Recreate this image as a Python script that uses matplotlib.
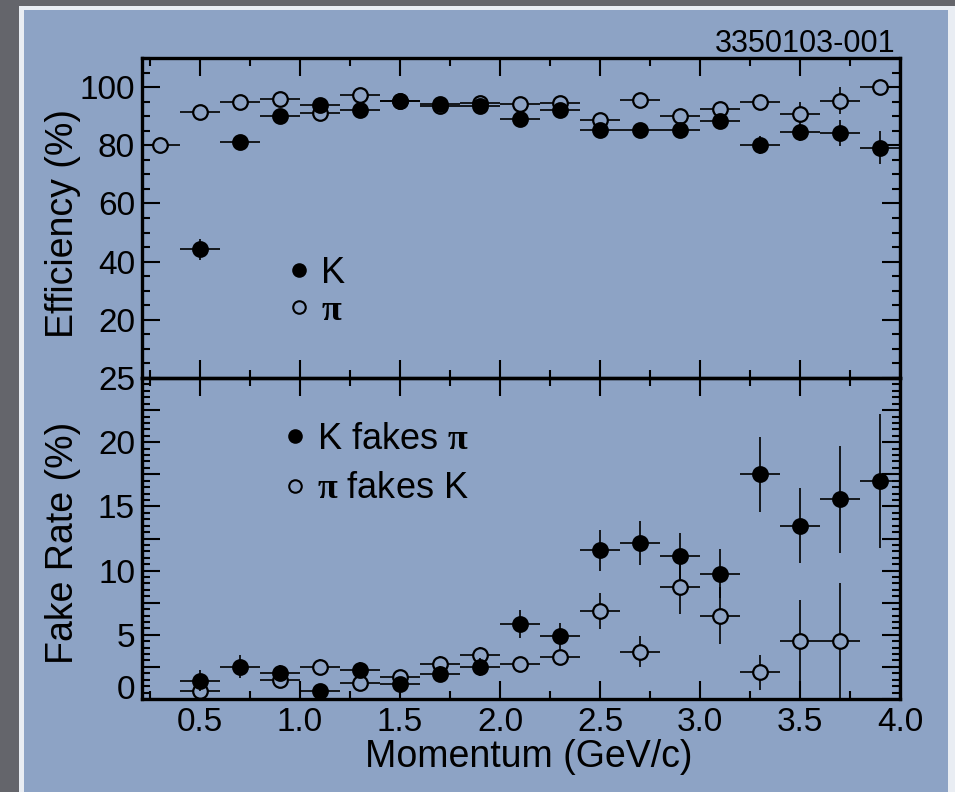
import numpy as np
import matplotlib
matplotlib.use('Agg')
import matplotlib.pyplot as plt
from matplotlib.lines import Line2D
from matplotlib.patches import Rectangle
from matplotlib.ticker import MultipleLocator, FixedLocator, FuncFormatter

plt.rcParams['font.family'] = ['Liberation Sans', 'DejaVu Sans']
plt.rcParams['mathtext.fontset'] = 'custom'
plt.rcParams['mathtext.rm'] = 'Liberation Sans'
plt.rcParams['mathtext.bf'] = 'Liberation Serif:bold'

nan = np.nan

# ---------------- data ----------------
momentum = [0.3, 0.5, 0.7, 0.9, 1.1, 1.3, 1.5, 1.7, 1.9, 2.1,
            2.3, 2.5, 2.7, 2.9, 3.1, 3.3, 3.5, 3.7, 3.9]
bin_half = [0.1] * 19

eff_K = [nan, 44.2, 81.2, 90.1, 93.8, 92.1, 95.3, 94.2, 93.5, 89.0,
         92.1, 85.3, 85.3, 85.3, 88.5, 80.1, 84.4, 84.3, 79.2]
eff_K_err = [nan, 3.5, 1.2, 1.0, 1.0, 1.0, 1.0, 1.0, 1.0, 1.0,
             1.0, 1.2, 1.2, 1.2, 1.5, 3.1, 2.9, 4.5, 5.7]
eff_pi = [80.1, 91.3, 95.0, 95.8, 91.2, 97.3, 95.3, 93.5, 94.4, 94.2,
          94.4, 88.7, 95.6, 90.1, 92.5, 94.8, 90.6, 95.3, 99.9]
eff_pi_err = [0.8, 1.0, 1.0, 1.0, 1.0, 1.0, 1.0, 1.0, 1.0, 1.0,
              1.0, 1.2, 1.2, 1.5, 1.5, 1.5, 4.3, 4.6, 1.5]

fake_K = [nan, 1.43, 2.52, 2.05, 0.65, 2.26, 1.17, 1.95, 2.47, 5.84,
          4.93, 11.6, 12.17, 11.14, 9.76, 17.5, 13.5, 15.55, 16.98]
fake_K_err = [nan, 0.8, 0.9, 0.6, 0.4, 0.6, 0.5, 0.6, 0.7, 1.1,
              1.0, 1.6, 1.7, 1.8, 1.9, 2.9, 2.9, 4.15, 5.2]
fake_pi = [nan, 0.65, nan, 1.48, 2.52, 1.22, 1.69, 2.73, 3.43, 2.73,
           3.3, 6.88, 3.69, 8.7, 6.5, 2.07, 4.54, 4.54, nan]
fake_pi_err_lo = [nan, 0.6, nan, 0.5, 0.6, 0.4, 0.4, 0.6, 0.6, 0.4,
                  0.6, 1.4, 1.2, 2.1, 2.25, 1.36, 4.54, 4.54, nan]
fake_pi_err_hi = [nan, 0.6, nan, 0.5, 0.6, 0.4, 0.4, 0.6, 0.6, 0.4,
                  0.6, 1.4, 1.2, 2.1, 2.25, 1.36, 3.17, 4.46, nan]

eff_labels = ['K', r'$\mathbf{\pi}$']
fake_labels = [r'K fakes $\mathbf{\pi}$', r'$\mathbf{\pi}$ fakes K']
eff_ticks = [20, 40, 60, 80, 100]
fake_ticks = [0, 2.5, 5, 7.5, 10, 12.5, 15, 17.5, 20, 22.5, 25]
x_ticks = [0.5, 1.0, 1.5, 2.0, 2.5, 3.0, 3.5, 4.0]

# ---------------- style ----------------
W, H = 955, 792
BLUE = '#8DA3C5'
GREY = '#64656B'

fig = plt.figure(figsize=(W / 100, H / 100), dpi=100)
fig.patch.set_facecolor(GREY)
fig.patches.append(Rectangle((19 / W, 0), 1 - 19 / W, 1 - 6 / H, transform=fig.transFigure,
                             facecolor='#E9EDF3', edgecolor='none', zorder=-10))
fig.patches.append(Rectangle((24 / W, 0), (948 - 24) / W, 1 - 10 / H, transform=fig.transFigure,
                             facecolor=BLUE, edgecolor='none', zorder=-9))

ax1 = fig.add_axes([142 / W, 1 - 378 / H, 758 / W, 320 / H])
ax2 = fig.add_axes([142 / W, 1 - 699 / H, 758 / W, 321 / H])

TICKFS = 24
common = dict(ms=10.5, mew=1.6, mec='k', ecolor='k', elinewidth=1.2, capsize=0, ls='none', marker='o')

# top panel
ax1.errorbar(momentum, eff_pi, xerr=bin_half, yerr=eff_pi_err, mfc=BLUE, zorder=2, **common)
ax1.errorbar(momentum, eff_K, xerr=bin_half, yerr=eff_K_err, mfc='k', zorder=3, **common)
# bottom panel
ax2.errorbar(momentum, fake_pi, xerr=bin_half, yerr=[fake_pi_err_lo, fake_pi_err_hi],
             mfc=BLUE, zorder=2, **common)
ax2.errorbar(momentum, fake_K, xerr=bin_half, yerr=fake_K_err, mfc='k', zorder=3, **common)

for ax in (ax1, ax2):
    ax.set_facecolor('none')
    ax.set_xlim(0.21, 4.0)
    ax.xaxis.set_major_locator(FixedLocator(x_ticks))
    ax.xaxis.set_minor_locator(MultipleLocator(0.25))
    ax.tick_params(which='both', direction='in', top=True, right=True, width=1.5,
                   labelsize=TICKFS, colors='k')
    ax.tick_params(which='major', length=13, pad=6)
    ax.tick_params(which='minor', length=6)
    for s in ax.spines.values():
        s.set_linewidth(2.4)

ax1.set_ylim(0, 110)
ax1.yaxis.set_major_locator(FixedLocator(eff_ticks))
ax1.yaxis.set_minor_locator(MultipleLocator(5))
ax1.tick_params(labelbottom=False)
ax1.tick_params(axis='y', pad=5)

ax2.set_ylim(0, 25)
ax2.yaxis.set_major_locator(FixedLocator(fake_ticks))
ax2.yaxis.set_minor_locator(MultipleLocator(0.5))
ax2.yaxis.set_major_formatter(FuncFormatter(lambda v, p: f'{v:g}' if v % 5 == 0 else ''))
ax2.xaxis.set_major_formatter(FuncFormatter(lambda v, p: f'{v:.1f}'))
ax2.tick_params(axis='y', pad=5)
ax2.tick_params(axis='x', pad=6)
ax2.tick_params(axis='y', which='minor', length=6)
ticks = ax2.yaxis.get_major_ticks()
ticks[0].label1.set_verticalalignment('baseline')

LABFS = 27
ax1.set_ylabel('Efficiency (%)', fontsize=LABFS)
ax1.yaxis.set_label_coords(-0.0806, 0.483)
ax2.set_ylabel('Fake Rate (%)', fontsize=LABFS)
ax2.yaxis.set_label_coords(-0.0806, 0.486)
ax2.set_xlabel('Momentum (GeV/c)', fontsize=LABFS)
ax2.xaxis.set_label_coords(0.51, -0.1246)

# legends
h_filled = Line2D([], [], marker='o', ls='none', mfc='k', mec='k', ms=9, mew=1.5)
h_open = Line2D([], [], marker='o', ls='none', mfc=BLUE, mec='k', ms=9, mew=1.5)
leg1 = ax1.legend([h_filled, h_open], eff_labels, loc='center left', bbox_to_anchor=(0.195, 0.27),
                  frameon=False, fontsize=26, handlelength=0.5, handletextpad=0.35,
                  labelspacing=0.05, borderpad=0, borderaxespad=0)
leg2 = ax2.legend([h_filled, h_open], fake_labels, loc='center left', bbox_to_anchor=(0.19, 0.732),
                  frameon=False, fontsize=26, handlelength=0.5, handletextpad=0.35,
                  labelspacing=0.4, borderpad=0, borderaxespad=0)

fig.text(895 / W, 1 - 52 / H, '3350103-001', ha='right', va='baseline', fontsize=22)

fig.savefig('out.png', dpi=100, facecolor=fig.get_facecolor())
